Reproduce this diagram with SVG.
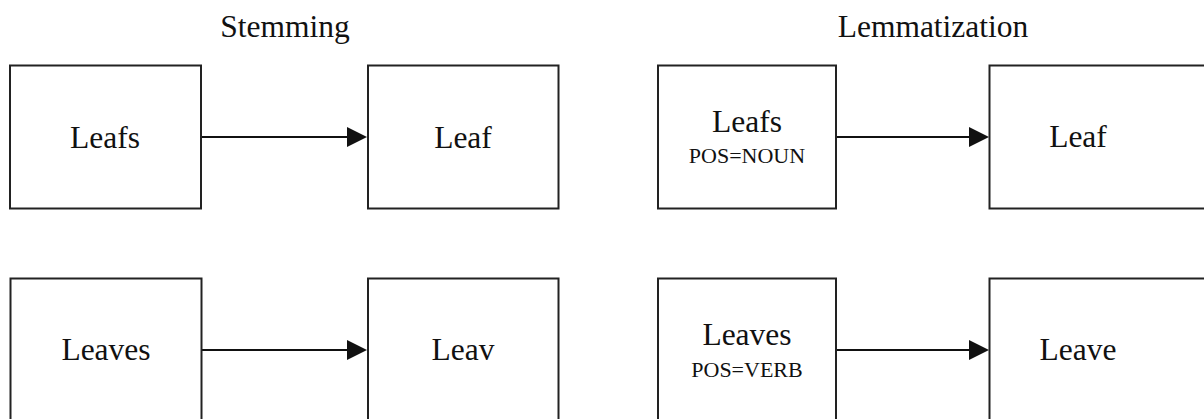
<svg xmlns="http://www.w3.org/2000/svg" width="1204" height="419" viewBox="0 0 1204 419">
  <style>
    .box { fill: #ffffff; stroke: #222222; stroke-width: 2; }
    .edge { stroke: #111111; stroke-width: 2.2; fill: none; }
    text { fill: #111111; text-anchor: middle; }
    .title, .word { font-size: 31.5px; }
    .pos { font-size: 22px; }
  </style>
  <rect width="1204" height="419" fill="#ffffff"/>

  <g font-family="'Liberation Serif', 'DejaVu Serif', serif">
  <text class="title" x="285" y="37">Stemming</text>
  <text class="title" x="933" y="37">Lemmatization</text>

  <!-- connectors -->
  <g id="connectors">
    <line class="edge" x1="201" y1="137" x2="347" y2="137"/>
    <path d="M347,127 L367,137 L347,147 Z" fill="#111111"/>
    <line class="edge" x1="202" y1="350" x2="347" y2="350"/>
    <path d="M347,340 L367,350 L347,360 Z" fill="#111111"/>
    <line class="edge" x1="836" y1="137" x2="970" y2="137"/>
    <path d="M969,127 L989,137 L969,147 Z" fill="#111111"/>
    <line class="edge" x1="836" y1="350" x2="970" y2="350"/>
    <path d="M969,340 L989,350 L969,360 Z" fill="#111111"/>
  </g>

  <!-- stemming row 1 -->
  <g id="stem-leafs">
    <rect class="box" x="10" y="65.5" width="191" height="143"/>
    <text class="word" x="105" y="148">Leafs</text>
  </g>
  <g id="stem-leaf">
    <rect class="box" x="368" y="65.5" width="190.5" height="143"/>
    <text class="word" x="463" y="148">Leaf</text>
  </g>

  <!-- stemming row 2 -->
  <g id="stem-leaves">
    <rect class="box" x="10.5" y="278.5" width="191" height="150"/>
    <text class="word" x="106" y="360">Leaves</text>
  </g>
  <g id="stem-leav">
    <rect class="box" x="368" y="278.5" width="190.5" height="150"/>
    <text class="word" x="463" y="360">Leav</text>
  </g>

  <!-- lemmatization row 1 -->
  <g id="lemma-leafs">
    <rect class="box" x="658" y="65.5" width="178" height="143"/>
    <text class="word" x="747" y="132">Leafs</text>
    <text class="pos" x="747" y="163">POS=NOUN</text>
  </g>
  <g id="lemma-leaf">
    <rect class="box" x="989.5" y="65.5" width="230" height="143"/>
    <text class="word" x="1078" y="147">Leaf</text>
  </g>

  <!-- lemmatization row 2 -->
  <g id="lemma-leaves">
    <rect class="box" x="658" y="278.5" width="178" height="150"/>
    <text class="word" x="747" y="345">Leaves</text>
    <text class="pos" x="747" y="377">POS=VERB</text>
  </g>
  <g id="lemma-leave">
    <rect class="box" x="989.5" y="278.5" width="230" height="150"/>
    <text class="word" x="1078" y="360">Leave</text>
  </g>
  </g>
</svg>
